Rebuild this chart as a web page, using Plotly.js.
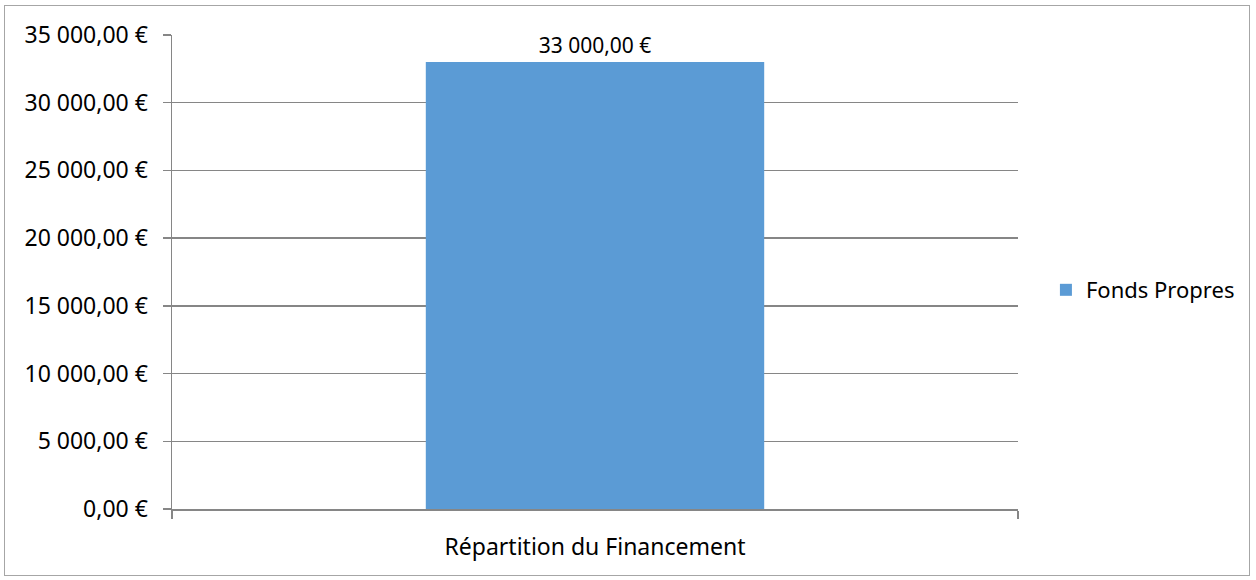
<!DOCTYPE html>
<html>
<head>
<meta charset="utf-8">
<script src="https://cdn.plot.ly/plotly-3.0.1.min.js"></script>
<style>
  html, body { margin: 0; padding: 0; background: #ffffff; }
  #wrap { position: relative; width: 1256px; height: 580px; }
  #chart { position: absolute; left: 0; top: 0; width: 1256px; height: 580px; }
  #frame { position: absolute; left: 4px; top: 5px; width: 1244px; height: 569px; border: 1.5px solid #a6a6a6; pointer-events: none; }
</style>
</head>
<body>
<div id="wrap">
  <div id="chart"></div>
  <div id="frame"></div>
</div>
<script>
const categories = ["Répartition du Financement"];
const seriesName = "Fonds Propres";
const seriesValues = [33000];
const yTickValues = [0, 5000, 10000, 15000, 20000, 25000, 30000, 35000];

const FONT = "Noto Sans, DejaVu Sans, sans-serif";

function euro(v) {
  const parts = v.toFixed(2).split(".");
  const intPart = parts[0].replace(/\B(?=(\d{3})+(?!\d))/g, " ");
  return intPart + "," + parts[1] + " €";
}
const yTickText = yTickValues.map(euro);
const barText = seriesValues.map(euro);

const trace = {
  type: "bar",
  name: seriesName,
  x: categories,
  y: seriesValues,
  width: 0.4,
  marker: { color: "#5B9BD5", line: { width: 0 } },
  text: barText,
  texttemplate: "%{text}",
  textposition: "outside",
  textfont: { family: FONT, size: 21, color: "#000000" },
  cliponaxis: false,
  showlegend: true,
  hoverinfo: "none"
};

const layout = {
  width: 1256,
  height: 580,
  margin: { l: 172, r: 238, t: 35, b: 71, pad: 0 },
  paper_bgcolor: "rgba(0,0,0,0)",
  plot_bgcolor: "#ffffff",
  font: { family: FONT, size: 22, color: "#000000" },
  showlegend: true,
  legend: {
    x: 1.033, xanchor: "left", y: 0.462, yanchor: "middle",
    font: { family: FONT, size: 22, color: "#000000" },
    bgcolor: "rgba(0,0,0,0)"
  },
  xaxis: {
    type: "category",
    automargin: false,
    showgrid: false,
    showline: true,
    linecolor: "#868686",
    linewidth: 1.5,
    ticks: "outside",
    tickson: "boundaries",
    ticklen: 8,
    tickcolor: "#868686",
    tickwidth: 1.5,
    tickfont: { family: FONT, size: 23, color: "#000000" },
    ticklabelstandoff: 17,
    zeroline: false
  },
  yaxis: {
    automargin: false,
    range: [0, 35000],
    tickmode: "array",
    tickvals: yTickValues,
    ticktext: yTickText,
    showgrid: true,
    gridcolor: "#868686",
    gridwidth: 1.5,
    showline: true,
    linecolor: "#868686",
    linewidth: 1.5,
    ticks: "outside",
    ticklen: 8,
    tickcolor: "#868686",
    tickwidth: 1.5,
    tickfont: { family: FONT, size: 23, color: "#000000" },
    ticklabelstandoff: 10,
    zeroline: false
  }
};

Plotly.newPlot("chart", [trace], layout, { displayModeBar: false, staticPlot: true });
</script>
</body>
</html>
